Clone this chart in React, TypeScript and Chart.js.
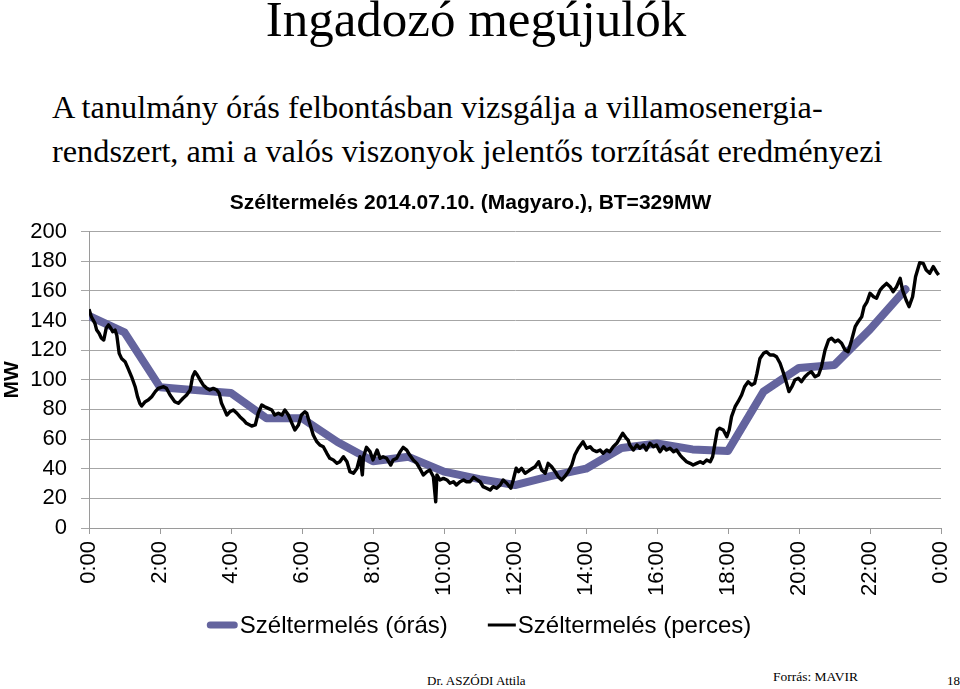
import React, { useEffect, useRef } from "react";
import { Chart, registerables } from "chart.js";

Chart.register(...registerables);

// Hourly wind generation (MW) at 0:00, 1:00, ... 23:00
const hourlyMW = [143, 132, 95, 93, 91, 74, 74, 58, 45, 48, 38, 33, 29, 35, 40, 54, 57, 53, 52, 92, 108, 110, 134, 161];

// Per-minute wind generation: sample times (minutes after midnight) and values (MW)
const minuteTimes = [
  0, 4, 10, 13, 17, 21, 25, 29, 33, 37, 40, 44, 47, 51, 55, 61, 66, 72, 78, 82, 86, 89, 95, 100, 106, 112, 117, 126, 131, 137,
  145, 151, 159, 165, 171, 175, 179, 183, 188, 193, 199, 204, 210, 216, 220, 224, 228, 233, 238, 244, 250, 255, 261, 266, 275,
  281, 286, 292, 297, 303, 309, 314, 320, 326, 331, 337, 343, 348, 354, 359, 365, 368, 373, 379, 385, 390, 396, 402, 407, 413,
  419, 424, 430, 436, 441, 447, 453, 458, 462, 464, 469, 475, 480, 487, 492, 497, 503, 510, 514, 520, 526, 531, 537, 542, 548,
  554, 559, 565, 571, 576, 582, 586, 588, 593, 599, 605, 610, 616, 621, 627, 633, 638, 644, 650, 655, 661, 666, 672, 678, 683,
  689, 695, 700, 706, 713, 717, 722, 726, 731, 737, 745, 754, 760, 765, 771, 776, 782, 788, 793, 799, 804, 810, 816, 821, 827,
  835, 841, 847, 852, 858, 864, 869, 875, 880, 886, 892, 897, 902, 908, 911, 914, 920, 926, 931, 937, 942, 948, 954, 959, 965,
  971, 976, 982, 988, 993, 999, 1004, 1010, 1016, 1021, 1027, 1033, 1038, 1044, 1050, 1054, 1058, 1062, 1066, 1072, 1078, 1082,
  1086, 1092, 1097, 1103, 1108, 1114, 1120, 1125, 1129, 1134, 1140, 1145, 1151, 1157, 1162, 1168, 1173, 1179, 1183, 1188, 1193,
  1199, 1204, 1210, 1216, 1221, 1227, 1233, 1238, 1244, 1250, 1255, 1261, 1266, 1272, 1278, 1283, 1289, 1295, 1300, 1306, 1310,
  1315, 1320, 1326, 1331, 1337, 1342, 1348, 1354, 1359, 1365, 1371, 1375, 1381, 1386, 1392, 1397, 1404, 1410, 1415, 1421, 1427,
  1432, 1436,
];
const minuteMW = [
  147.5, 142.5, 138, 133.5, 131.3, 128, 126.8, 134.7, 137, 134.7, 132.4, 133.5, 130, 117.8, 114.4, 112.2, 107.7, 102, 95.3, 88.6,
  84, 82.3, 85.2, 86.3, 88.6, 92, 94.2, 95.3, 94.2, 89.7, 85.2, 84.1, 87.5, 89.7, 93.1, 102, 105.4, 103.2, 99.8, 96.5, 94.2, 93.1,
  94.2, 93.1, 90.9, 84.1, 80.7, 76.2, 78.4, 79.6, 77.4, 75.1, 72.9, 70.6, 68.8, 69.5, 77.4, 83, 81.8, 80.7, 79.6, 76.2, 77.4, 76.2,
  79.6, 76.2, 70.6, 66.1, 69.5, 76.2, 78.4, 77.4, 70.6, 62.7, 58.2, 56, 54.8, 50.4, 47, 45.9, 43.6, 44.7, 48.1, 44.7, 38, 36.9,
  40.3, 48.1, 35.8, 48.1, 54.4, 51.5, 45.9, 52.6, 47, 48.1, 47, 42.5, 45.9, 47, 51.5, 54.4, 52.6, 49.2, 45.9, 43.6, 40.3, 35.8,
  38, 39.1, 34.6, 17.7, 35.8, 32.4, 33.5, 32.4, 30.2, 31.2, 29, 31.2, 32.4, 31.2, 31.2, 34.2, 32.8, 31.2, 27.9, 26.8, 25.6, 27.9,
  26.8, 29, 32.4, 30.2, 26.8, 32.4, 40.3, 38, 40.3, 36.9, 39.1, 41.3, 44.7, 39.1, 36.9, 43.6, 41.3, 38, 34.6, 32.4, 34.6, 38, 42.5,
  49.2, 53.8, 58.2, 53.8, 54.8, 52.6, 51.5, 52.6, 50.4, 52.6, 51.5, 54.8, 57.1, 60.5, 63.9, 60.5, 59.4, 56, 52.6, 56, 53.8, 56,
  52.6, 57.1, 54.8, 56, 51.5, 54.8, 52.6, 53.8, 51.5, 52.6, 49.2, 47, 44.7, 43.6, 42.5, 43.6, 44.7, 43.6, 45.9, 44.7, 48.1, 57.1,
  66.1, 67.3, 66.1, 61.6, 66.1, 75.1, 81.8, 85.2, 89.7, 95.3, 98.7, 96.5, 97.6, 104.3, 114.4, 117.8, 118.9, 116.7, 116.7, 115.5,
  111.1, 105.4, 97.6, 92, 95.3, 99.8, 101, 98.7, 102, 104.3, 105.4, 102, 103.2, 108.8, 120, 126.8, 128, 125.7, 126.8, 124.6, 120,
  118.9, 126.8, 135.8, 139.2, 142.5, 149.3, 152.6, 158.3, 156, 155, 160.5, 162.8, 165, 162.8, 159.4, 162.8, 168.4, 160.5, 153.8,
  149.3, 156, 169.5, 178.9, 178.5, 174, 171.8, 176.3, 172.9, 170.6,
];

const seriesNames = ["Széltermelés (órás)", "Széltermelés (perces)"];
const chartTitle = "Széltermelés 2014.07.10. (Magyaro.), BT=329MW";
const yAxisLabel = "MW";
const yMin = 0;
const yMax = 200;
const yStep = 20;
const xMaxMinutes = 1440;
const xStepMinutes = 120;

const SANS = '"Liberation Sans", Arial, sans-serif';
const SERIF = '"Liberation Serif", "Times New Roman", serif';

const legendPlugin = {
  id: "lineLegend",
  afterDraw(chart: any) {
    const ctx = chart.ctx;
    const ds = chart.data.datasets;
    const order = [0, 1];
    const lineLens = [31, 28];
    const lineWidths = [7, 3];
    const gapText = 2;
    const gapItems = 40;
    ctx.save();
    ctx.font = `24px ${SANS}`;
    const widths = order.map((i, k) => lineLens[k] + gapText + ctx.measureText(ds[i].label).width);
    const total = widths.reduce((a: number, b: number) => a + b, 0) + gapItems * (order.length - 1);
    let x = chart.width / 2 - total / 2 - 1;
    const y = chart.chartArea.bottom + 97;
    order.forEach((i, k) => {
      const d = ds[i];
      ctx.beginPath();
      ctx.strokeStyle = d.borderColor;
      ctx.lineWidth = lineWidths[k];
      ctx.lineCap = d.borderCapStyle || "butt";
      const pad = ctx.lineCap === "round" ? 3.5 : 0;
      ctx.moveTo(x + pad, y);
      ctx.lineTo(x + lineLens[k] - pad, y);
      ctx.stroke();
      ctx.fillStyle = "#000";
      ctx.textBaseline = "middle";
      ctx.textAlign = "left";
      ctx.fillText(d.label, x + lineLens[k] + gapText, y + 1);
      x += widths[k] + gapItems;
    });
    ctx.restore();
  },
};

function ChartBox() {
  const ref = useRef<HTMLCanvasElement | null>(null);
  useEffect(() => {
    if (!ref.current) return;
    const chart = new Chart(ref.current, {
      type: "line",
      data: {
        datasets: [
          {
            label: seriesNames[0],
            data: hourlyMW.map((v, i) => ({ x: i * 60, y: v })),
            borderColor: "#64649E",
            backgroundColor: "#64649E",
            borderWidth: 8,
            borderCapStyle: "round",
            borderJoinStyle: "round",
            pointRadius: 0,
            tension: 0,
            order: 1,
          },
          {
            label: seriesNames[1],
            data: minuteTimes.map((t, i) => ({ x: t, y: minuteMW[i] })),
            borderColor: "#000000",
            backgroundColor: "#000000",
            borderWidth: 3.4,
            borderJoinStyle: "round",
            pointRadius: 0,
            tension: 0,
            order: 0,
          },
        ],
      },
      options: {
        responsive: false,
        animation: false,
        devicePixelRatio: 1,
        layout: { padding: { left: 0, right: 19, top: 0, bottom: 45 } },
        plugins: {
          legend: { display: false },
          tooltip: { enabled: false },
          title: {
            display: true,
            text: chartTitle,
            color: "#000",
            font: { family: SANS, size: 21, weight: "bold" },
            padding: { top: 10.5, bottom: 15.8 },
          },
        },
        scales: {
          x: {
            type: "linear",
            min: 0,
            max: xMaxMinutes,
            afterFit: (s: any) => {
              s.height = 77;
              s.paddingRight = 0;
              s.paddingLeft = 0;
            },
            ticks: {
              stepSize: xStepMinutes,
              minRotation: 90,
              maxRotation: 90,
              autoSkip: false,
              padding: 7,
              color: "#000",
              font: { family: SANS, size: 22 },
              callback: (v: any) => `${Math.round(Number(v) / 60) % 24}:00`,
            },
            grid: {
              drawOnChartArea: false,
              drawTicks: true,
              tickLength: 6,
              color: "#9a9a9a",
              lineWidth: 1,
            },
            border: { color: "#9a9a9a", width: 1 },
          },
          y: {
            min: yMin,
            max: yMax,
            afterFit: (s: any) => {
              s.width = 89;
            },
            ticks: {
              stepSize: yStep,
              padding: 14,
              color: "#000",
              font: { family: SANS, size: 22 },
            },
            grid: {
              color: "#a6a6a6",
              lineWidth: 1,
              tickLength: 8,
              drawTicks: true,
            },
            border: { color: "#9a9a9a", width: 1 },
            title: {
              display: true,
              text: yAxisLabel,
              color: "#000",
              font: { family: SANS, size: 21, weight: "bold" },
              padding: { top: 0, bottom: 0 },
            },
          },
        },
      },
      plugins: [legendPlugin],
    } as any);
    return () => chart.destroy();
  }, []);
  return (
    <canvas
      ref={ref}
      width={960}
      height={470}
      style={{ position: "absolute", left: 0, top: 180, width: 960, height: 470 }}
    />
  );
}

export default function App() {
  const txt = (extra: React.CSSProperties): React.CSSProperties => ({
    position: "absolute",
    whiteSpace: "nowrap",
    lineHeight: 1,
    fontFamily: SERIF,
    color: "#000",
    margin: 0,
    ...extra,
  });
  return (
    <div
      style={{
        position: "absolute",
        left: 0,
        top: 0,
        width: 960,
        height: 689,
        overflow: "hidden",
        background: "#fff",
      }}
    >
      <div style={txt({ left: -4, width: 960, textAlign: "center", top: -6, fontSize: 51 })}>
        Ingadozó megújulók
      </div>
      <div style={txt({ left: 52, top: 90.5, fontSize: 32.3 })}>
        A tanulmány órás felbontásban vizsgálja a villamosenergia-
      </div>
      <div style={txt({ left: 52, top: 135, fontSize: 32.3 })}>
        rendszert, ami a valós viszonyok jelentős torzítását eredményezi
      </div>
      <ChartBox />
      <div style={txt({ left: 427, top: 674, fontSize: 13 })}>Dr. ASZÓDI Attila</div>
      <div style={txt({ left: 773, top: 669.5, fontSize: 13.5 })}>Forrás: MAVIR</div>
      <div style={txt({ left: 947, top: 674, fontSize: 13 })}>18</div>
    </div>
  );
}
